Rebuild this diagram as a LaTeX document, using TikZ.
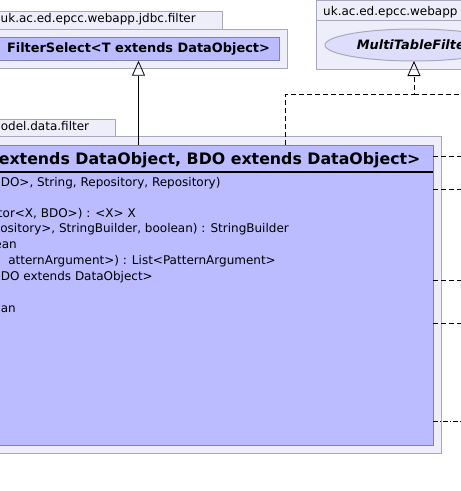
\documentclass[tikz,border=0pt]{standalone}
\usepackage{fontspec}
\setmainfont{DejaVu Sans}
\usetikzlibrary{arrows.meta,positioning,calc,shapes.geometric}
\definecolor{csomagszin}{RGB}{238,238,250}
\definecolor{csomagkeret}{RGB}{168,168,188}
\definecolor{osztalyszin}{RGB}{186,188,255}
\definecolor{osztalykeret}{RGB}{128,128,176}
\definecolor{ellipszin}{RGB}{222,222,252}
\tikzset{
  csomag/.style={draw=csomagkeret,fill=csomagszin,line width=1pt},
  ful/.style={inner sep=0pt,anchor=base west,font=\fontsize{12}{14}\selectfont},
  osztaly/.style={draw=osztalykeret,fill=osztalyszin,line width=1pt,inner sep=0pt,outer sep=0pt,
                  anchor=north west},
  interf/.style={ellipse,draw=csomagkeret,fill=ellipszin,line width=1pt,inner sep=0pt,outer sep=0pt,
                 minimum width=178pt,minimum height=32pt,font=\fontsize{12.9}{15}\selectfont\bfseries\itshape},
  fej/.style={inner sep=0pt,anchor=base east,font=\fontsize{15.8}{18}\selectfont\bfseries},
  sor/.style={inner sep=0pt,anchor=base east,font=\fontsize{12}{14}\selectfont},
  fejvonal/.style={line width=2pt},
  orokles/.style={-{Triangle[open,length=15pt,width=13pt]},line width=0.8pt},
  megval/.style={-{Triangle[open,length=15pt,width=13pt]},line width=0.8pt,dash pattern=on 5pt off 3pt},
  szagg/.style={line width=0.8pt,dash pattern=on 5pt off 3pt},
  szaggpont/.style={line width=0.8pt,dash pattern=on 5pt off 2pt on 1pt off 2pt},
}
\begin{document}
\begin{tikzpicture}[x=1pt,y=-1pt]
  \useasboundingbox (0,0) rectangle (461,491);
  \clip (0,0) rectangle (461,491);
  % jdbc.filter csomag
  \draw[csomag] (-5,11.7) rectangle (222,29);
  \draw[csomag] (-5,29) rectangle (287,68.5);
  \node[ful] (cs1) at (0.5,22.3) {uk.ac.ed.epcc.webapp.jdbc.filter};
  \node[osztaly,minimum width=281pt,minimum height=23.7pt,font=\fontsize{12.9}{15}\selectfont\bfseries]
    (fsel) at (-2,37) {FilterSelect<T extends DataObject>};
  % webapp csomag
  \draw[csomag] (316,0.5) rectangle (475,20.7);
  \draw[csomag] (316,20.7) rectangle (475,69);
  \node[ful] (cs2) at (323,15) {uk.ac.ed.epcc.webapp};
  \node[interf] (mtf) at (414,45) {MultiTableFilter};
  % model.data.filter csomag
  \draw[csomag] (-5,119.3) rectangle (115.7,136.7);
  \draw[csomag] (-5,136.7) rectangle (441,453.3);
  \node[ful,anchor=base east] (cs3) at (89.3,130.7) {odel.data.filter};
  \node[osztaly,minimum width=633.3pt,minimum height=300.3pt] (fdata) at (-200,145) {};
  \node[fej] (nev) at (420.7,164) {extends DataObject, BDO extends DataObject>};
  \draw[fejvonal] (fdata.west |- 0,171.7) -- (fdata.east |- 0,171.7);
  \node[sor] (s1) at (220.7,186) {DO>, String, Repository, Repository)};
  \node[sor] (s2) at (136,217) {itor<X, BDO>) : <X> X};
  \node[sor] (s3) at (289,232.5) {ository>, StringBuilder, boolean) : StringBuilder};
  \node[sor] (s4) at (17,248.3) {ean};
  \node[sor] (s5) at (276,264.3) {atternArgument>) : List<PatternArgument>};
  \node[sor] (s6) at (153,280.3) {DO extends DataObject>};
  \node[sor] (s7) at (16,312.7) {an};
  % kapcsolatok
  \draw[orokles] (fsel.south |- fdata.north) -- (fsel.south);
  \coordinate (k1) at (285.3,94.7);
  \coordinate (k2) at (470,94.7);
  \draw[megval] (fdata.north -| k1) |- (mtf.south |- k1) -- (mtf.south);
  \draw[szagg] (mtf.south |- k1) -- (k2);
  \coordinate (j1) at (470,156.7);
  \coordinate (j2) at (470,189);
  \coordinate (j3) at (470,280);
  \coordinate (j4) at (470,323.3);
  \coordinate (j5) at (470,421);
  \draw[szagg] (fdata.east |- j1) -- (j1);
  \draw[szagg] (fdata.east |- j2) -- (j2);
  \draw[szagg] (fdata.east |- j3) -- (j3);
  \draw[szagg] (fdata.east |- j4) -- (j4);
  \draw[szaggpont] (fdata.east |- j5) -- (j5);
\end{tikzpicture}
\end{document}
